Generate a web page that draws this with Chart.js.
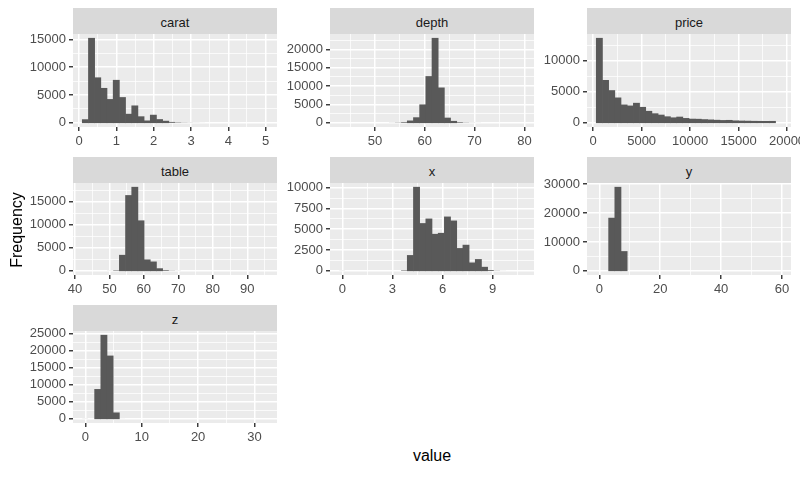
<!DOCTYPE html>
<html><head><meta charset="utf-8">
<script src="https://cdn.jsdelivr.net/npm/chart.js@4/dist/chart.umd.min.js"></script>
<style>
html,body{margin:0;padding:0;background:#fff;width:800px;height:494px;overflow:hidden;font-family:"Liberation Sans",Arial,Helvetica,sans-serif;}
.strip{position:absolute;background:#D9D9D9;color:#1A1A1A;font-size:13px;text-align:center;height:26px;line-height:29px;overflow:hidden;}
canvas{position:absolute;}
.title{position:absolute;color:#000;font-size:16px;line-height:18px;text-align:center;white-space:nowrap;}
</style></head><body>
<div id="root"></div>
<script>
// ---- data (histogram counts, 30 bins each) ----
const panelNames = ['carat', 'depth', 'price', 'table', 'x', 'y', 'z'];
const countsCarat = [570, 15200, 8100, 6200, 4200, 7650, 4550, 1550, 3050, 1100, 350, 1380, 590, 300, 150, 70, 35, 20, 12, 6, 4, 3, 2, 1, 1, 0, 1, 0, 0, 1];
const countsDepth = [3, 2, 1, 1, 0, 3, 6, 8, 20, 60, 180, 520, 1400, 4900, 12600, 23000, 9500, 1300, 420, 170, 60, 25, 12, 6, 3, 2, 1, 1, 1, 1];
const countsPrice = [13630, 6840, 5200, 4020, 2880, 2720, 3160, 2500, 1860, 1470, 1250, 980, 810, 930, 710, 600, 580, 520, 470, 420, 380, 400, 320, 290, 270, 250, 240, 230, 240, 2];
const countsTable = [1, 1, 3, 4, 12, 100, 3400, 16400, 18200, 10900, 2400, 1950, 480, 150, 40, 12, 5, 3, 2, 1, 1, 0, 0, 0, 0, 0, 0, 0, 0, 1];
const countsX = [8, 0, 0, 0, 0, 0, 0, 0, 0, 0, 60, 1850, 10050, 5690, 6240, 4400, 4520, 6480, 6000, 2690, 3090, 960, 1370, 440, 100, 20, 5, 3, 1, 1];
const countsY = [7, 0, 18250, 28950, 6700, 5, 0, 0, 0, 0, 0, 0, 0, 0, 0, 0, 1, 0, 0, 0, 0, 0, 0, 0, 0, 0, 0, 0, 0, 1];
const countsZ = [20, 1, 8660, 24600, 18500, 1770, 10, 1, 0, 0, 0, 0, 0, 0, 0, 0, 0, 0, 0, 0, 0, 0, 0, 0, 0, 0, 0, 0, 0, 1];
const allCounts = [countsCarat, countsDepth, countsPrice, countsTable, countsX, countsY, countsZ];
// first bin edge and bin width of each variable
const binOrigin = [0.0829310, 42.8275862, 318.9138, 42.137931, -0.1851724, -1.0155172, -0.5482759];
const binWidth = [0.1658621, 1.2413793, 637.8276, 1.7931034, 0.3703448, 2.0310345, 1.0965517];
// tick labels
const xTickValues = [[0, 1, 2, 3, 4, 5], [50, 60, 70, 80], [0, 5000, 10000, 15000, 20000], [40, 50, 60, 70, 80, 90], [0, 3, 6, 9], [0, 20, 40, 60], [0, 10, 20, 30]];
const yTickValues = [[0, 5000, 10000, 15000], [0, 5000, 10000, 15000, 20000], [0, 5000, 10000], [0, 5000, 10000, 15000], [0, 2500, 5000, 7500, 10000], [0, 10000, 20000, 30000], [0, 5000, 10000, 15000, 20000, 25000]];
const xAxisTitle = 'value';
const yAxisTitle = 'Frequency';

// ---- layout ----
const colLeft = [73, 330, 587];
const rowTop = [34, 183, 331];
const panelH = [93, 92, 92];
const panelW = 204;
const stripH = 26;
const padL = 75, padT = 10, padR = 16, padB = 24;
const FONT = '"Liberation Sans", Arial, Helvetica, sans-serif';

const root = document.getElementById('root');

const panelBg = {
  id: 'panelBg',
  beforeDraw(chart) {
    const {ctx, chartArea: a} = chart;
    ctx.save();
    ctx.fillStyle = '#EBEBEB';
    ctx.fillRect(a.left, a.top, a.right - a.left, a.bottom - a.top);
    ctx.restore();
  }
};

function buildTicks(majors, min, max) {
  const step = majors.length > 1 ? majors[1] - majors[0] : 1;
  const out = [];
  for (const v of majors) if (v >= min && v <= max) out.push({value: v, minor: false});
  for (let v = majors[0] - step / 2; v <= majors[majors.length - 1] + step / 2 + 1e-9; v += step) {
    if (v >= min && v <= max) out.push({value: v, minor: true});
  }
  out.sort((a, b) => a.value - b.value);
  return out;
}

function axisCommon(majors, lo, hi) {
  return {
    type: 'linear',
    min: lo,
    max: hi,
    offset: false,
    border: {display: false},
    grid: {
      offset: false,
      drawOnChartArea: true,
      drawTicks: true,
      tickLength: 4,
      color: '#FFFFFF',
      lineWidth: c => (c.tick && c.tick.minor) ? 0.75 : 1.5,
      tickColor: c => (c.tick && c.tick.minor) ? 'rgba(0,0,0,0)' : '#333333',
      tickWidth: 1.4
    },
    ticks: {
      autoSkip: false,
      maxRotation: 0,
      minRotation: 0,
      padding: 3,
      color: '#4D4D4D',
      font: {family: FONT, size: 13},
      callback: (v, i, t) => (t[i] && t[i].minor) ? '' : String(v)
    },
    afterBuildTicks: s => { s.ticks = buildTicks(majors, lo, hi); }
  };
}

panelNames.forEach((name, i) => {
  const r = Math.floor(i / 3), c = i % 3;
  const L = colLeft[c], T = rowTop[r], H = panelH[r];
  const counts = allCounts[i];
  const o = binOrigin[i], w = binWidth[i];
  const xlo = o, xhi = o + counts.length * w;
  const xspan = xhi - xlo;
  const xmin = xlo - 0.05 * xspan, xmax = xhi + 0.05 * xspan;
  const cmax = Math.max(...counts);
  const ymin = -0.05 * cmax, ymax = 1.05 * cmax;

  const strip = document.createElement('div');
  strip.className = 'strip';
  strip.style.left = L + 'px';
  strip.style.top = (T - stripH) + 'px';
  strip.style.width = panelW + 'px';
  strip.textContent = name;
  root.appendChild(strip);

  const cv = document.createElement('canvas');
  const W = panelW + padL + padR, HH = H + padT + padB;
  cv.width = W; cv.height = HH;
  cv.style.left = (L - padL) + 'px';
  cv.style.top = (T - padT) + 'px';
  cv.style.width = W + 'px';
  cv.style.height = HH + 'px';
  root.appendChild(cv);

  const xAxis = axisCommon(xTickValues[i], xmin, xmax);
  xAxis.position = 'bottom';
  xAxis.afterFit = s => { s.height = padB; s.paddingLeft = 0; s.paddingRight = 0; };
  const yAxis = axisCommon(yTickValues[i], ymin, ymax);
  yAxis.position = 'left';
  yAxis.afterFit = s => { s.width = padL; s.paddingTop = 0; s.paddingBottom = 0; };

  new Chart(cv, {
    type: 'bar',
    data: {
      datasets: [{
        data: counts.map((v, k) => ({x: o + (k + 0.5) * w, y: v})),
        backgroundColor: '#595959',
        borderWidth: 0,
        barPercentage: 1,
        categoryPercentage: 1,
        grouped: false,
        base: 1e-9,
        inflateAmount: ctx => (ctx.raw && ctx.raw.y > cmax * 0.012) ? 0.33 : 0
      }]
    },
    options: {
      responsive: false,
      animation: false,
      events: [],
      layout: {padding: {left: 0, top: padT, right: padR, bottom: 0}},
      plugins: {legend: {display: false}, tooltip: {enabled: false}, title: {display: false}},
      scales: {x: xAxis, y: yAxis}
    },
    plugins: [panelBg]
  });
});

const yt = document.createElement('div');
yt.className = 'title';
yt.textContent = yAxisTitle;
yt.style.width = '120px';
yt.style.left = (17 - 60) + 'px';
yt.style.top = (230 - 9) + 'px';
yt.style.transform = 'rotate(-90deg)';
root.appendChild(yt);

const xt = document.createElement('div');
xt.className = 'title';
xt.textContent = xAxisTitle;
xt.style.width = '120px';
xt.style.left = (432 - 60) + 'px';
xt.style.top = (455.5 - 9) + 'px';
root.appendChild(xt);
</script>
</body></html>
